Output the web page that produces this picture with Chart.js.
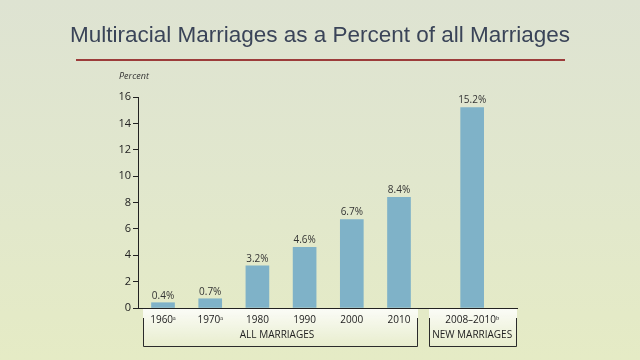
<!DOCTYPE html>
<html>
<head>
<meta charset="utf-8">
<script src="https://cdn.jsdelivr.net/npm/chart.js@4/dist/chart.umd.min.js"></script>
<style>
  html, body { margin: 0; padding: 0; }
  body { width: 640px; height: 360px; background: linear-gradient(180deg, #dee3d2 0%, #e1e7cd 50%, #e5ebc5 100%); overflow: hidden; }
  #wrap { position: relative; width: 640px; height: 360px; }
</style>
</head>
<body>
<div id="wrap"><canvas id="c" width="640" height="360"></canvas></div>
<script>
// ---- data ----
const categories = ['1960\u1d43', '1970\u1d43', '1980', '1990', '2000', '2010', '2008\u20132010\u1d47'];
const groups = ['ALL MARRIAGES', 'ALL MARRIAGES', 'ALL MARRIAGES', 'ALL MARRIAGES', 'ALL MARRIAGES', 'ALL MARRIAGES', 'NEW MARRIAGES'];
const percentValues = [0.4, 0.7, 3.2, 4.6, 6.7, 8.4, 15.2];
const yTicks = [0, 2, 4, 6, 8, 10, 12, 14, 16];
const titleText = 'Multiracial Marriages as a Percent of all Marriages';
const yAxisLabel = 'Percent';

// ---- layout (derived from group membership) ----
const GROUP_GAP = 0.55;
const xPos = [];
(function () {
  let off = 0;
  for (let i = 0; i < categories.length; i++) {
    if (i > 0 && groups[i] !== groups[i - 1]) off += GROUP_GAP;
    xPos.push(i + off);
  }
})();

const decor = {
  id: 'decor',
  beforeDraw(chart) {
    const ctx = chart.ctx;
    const xs = chart.scales.x;
    const area = chart.chartArea;
    // red rule under title
    ctx.save();
    ctx.strokeStyle = '#9c3c3a';
    ctx.lineWidth = 2;
    ctx.beginPath();
    ctx.moveTo(76, 60);
    ctx.lineTo(565, 60);
    ctx.stroke();
    // group brackets
    const uniq = [...new Set(groups)];
    const boxes = [];
    uniq.forEach((g, gi) => {
      const idx = groups.map((v, i) => v === g ? i : -1).filter(i => i >= 0);
      const first = xs.getPixelForValue(xPos[idx[0]]);
      const last = xs.getPixelForValue(xPos[idx[idx.length - 1]]);
      let left = first - 20;
      let right = gi === uniq.length - 1 ? area.right : last + 19;
      if (gi > 0) left = boxes[gi - 1].right + 11;
      boxes.push({ g, left, right, center: gi === uniq.length - 1 ? first : (first + last) / 2 - 4 });
    });
    const top = area.bottom + 1, bot = area.bottom + 38;
    boxes.forEach(b => {
      const grad = ctx.createLinearGradient(0, top, 0, bot);
      grad.addColorStop(0, 'rgba(255,255,255,0.85)');
      grad.addColorStop(1, 'rgba(255,255,255,0.15)');
      ctx.fillStyle = grad;
      ctx.fillRect(b.left, top, b.right - b.left, bot - top);
      ctx.strokeStyle = '#2b2b2b';
      ctx.lineWidth = 1;
      ctx.beginPath();
      ctx.moveTo(b.left + 0.5, area.bottom + 10);
      ctx.lineTo(b.left + 0.5, bot + 0.5);
      ctx.lineTo(b.right - 0.5, bot + 0.5);
      ctx.lineTo(b.right - 0.5, area.bottom + 10);
      ctx.stroke();
      ctx.fillStyle = '#222';
      ctx.font = '10px "Open Sans"';
      ctx.textAlign = 'center';
      ctx.textBaseline = 'middle';
      ctx.fillText(b.g, b.center, area.bottom + 27);
    });
    // axis unit label
    ctx.fillStyle = '#333';
    ctx.font = 'italic 9px "Open Sans"';
    ctx.textAlign = 'left';
    ctx.textBaseline = 'middle';
    ctx.fillText(yAxisLabel, 119, 76);
    ctx.restore();
  },
  afterDatasetsDraw(chart) {
    const ctx = chart.ctx;
    const meta = chart.getDatasetMeta(0);
    ctx.save();
    ctx.fillStyle = '#333';
    ctx.font = '10px "Open Sans"';
    ctx.textAlign = 'center';
    ctx.textBaseline = 'bottom';
    meta.data.forEach((el, i) => {
      ctx.fillText(percentValues[i].toFixed(1) + '%', el.x, el.y - 2);
    });
    ctx.restore();
  }
};

new Chart(document.getElementById('c'), {
  type: 'bar',
  data: {
    datasets: [{
      data: percentValues.map((v, i) => ({ x: xPos[i], y: v })),
      backgroundColor: '#7fb2c8',
      borderWidth: 0,
      barThickness: 23
    }]
  },
  options: {
    responsive: false,
    animation: false,
    devicePixelRatio: 1,
    layout: { padding: 0 },
    plugins: {
      legend: { display: false },
      tooltip: { enabled: false },
      title: {
        display: true,
        text: titleText,
        color: '#3a4458',
        font: { family: '"Liberation Sans", Arial, sans-serif', size: 22.5, weight: 'normal', lineHeight: 1.2 },
        padding: { top: 22, bottom: 48 }
      }
    },
    scales: {
      x: {
        type: 'linear',
        min: -0.53,
        max: 7.5,
        offset: false,
        afterFit(scale) { scale.height = 52; },
        afterBuildTicks(scale) { scale.ticks = xPos.map(v => ({ value: v })); },
        grid: { display: false, drawTicks: false },
        border: { display: true, color: '#222', width: 1 },
        ticks: {
          autoSkip: false,
          maxRotation: 0,
          padding: 6,
          color: '#222',
          font: { family: '"Open Sans"', size: 10 },
          callback: (v, i) => categories[i]
        }
      },
      y: {
        min: 0,
        max: 16,
        afterFit(scale) { scale.width = 138; },
        afterBuildTicks(scale) { scale.ticks = yTicks.map(v => ({ value: v })); },
        grid: { display: true, drawOnChartArea: false, drawTicks: true, tickLength: 5, color: '#222' },
        border: { display: true, color: '#222', width: 1 },
        ticks: {
          padding: 2,
          color: '#222',
          font: { family: '"Open Sans"', size: 11 }
        }
      },
      yRight: {
        position: 'right',
        display: true,
        afterFit(scale) { scale.width = 123; },
        grid: { display: false, drawTicks: false },
        border: { display: false },
        ticks: { display: false }
      }
    }
  },
  plugins: [decor]
});
</script>
</body>
</html>
